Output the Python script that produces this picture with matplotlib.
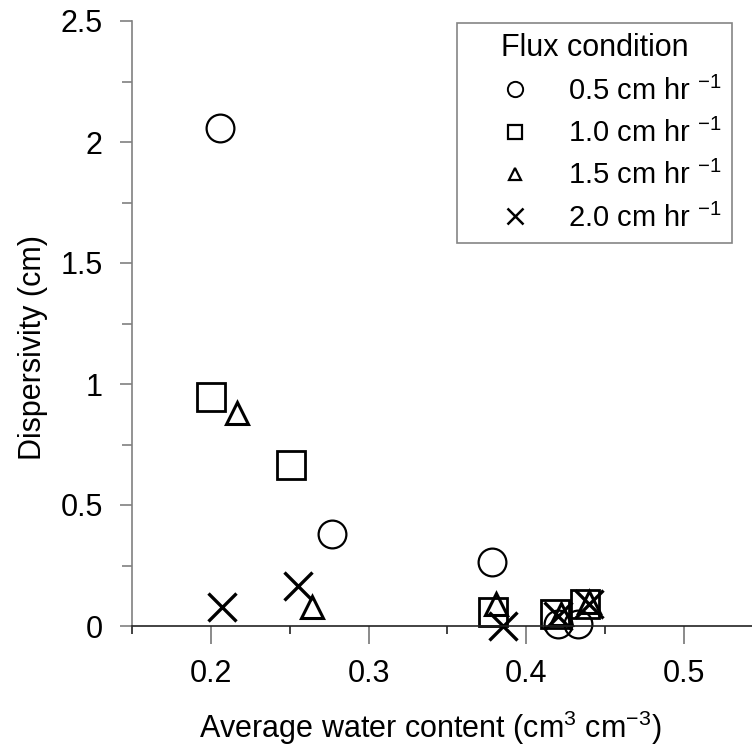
import matplotlib.pyplot as plt
from matplotlib.lines import Line2D

plt.rcParams['font.family'] = ['Liberation Sans', 'DejaVu Sans']
plt.rcParams['mathtext.fontset'] = 'custom'
plt.rcParams['mathtext.rm'] = 'Liberation Sans'
plt.rcParams['mathtext.default'] = 'regular'

# water content (cm3 cm-3) and dispersivity (cm) per flux condition
theta_05 = [0.206, 0.277, 0.378, 0.420, 0.433]
disp_05 = [2.058, 0.380, 0.265, 0.008, 0.010]

theta_10 = [0.200, 0.251, 0.379, 0.418, 0.437]
disp_10 = [0.946, 0.665, 0.058, 0.050, 0.090]

theta_15 = [0.2165, 0.264, 0.381, 0.422, 0.440]
disp_15 = [0.880, 0.080, 0.090, 0.050, 0.100]

theta_20 = [0.207, 0.255, 0.385, 0.420, 0.440]
disp_20 = [0.080, 0.165, 0.000, 0.040, 0.090]

labels = ['0.5 cm hr $^{-1}$', '1.0 cm hr $^{-1}$',
          '1.5 cm hr $^{-1}$', '2.0 cm hr $^{-1}$']

W, H = 752, 747
fig = plt.figure(figsize=(W / 100, H / 100), dpi=100)
ax = fig.add_axes([132 / W, 1 - 626 / H, (W - 132) / W, (626 - 21) / H])

ax.plot(theta_05, disp_05, 'o', ms=20, mfc='none', mec='k', mew=1.6, clip_on=False)
ax.plot(theta_10, disp_10, 's', ms=20, mfc='none', mec='k', mew=2.0, clip_on=False)
ax.plot(theta_15, disp_15, '^', ms=16, mfc='none', mec='k', mew=2.2, clip_on=False)
ax.plot(theta_20, disp_20, 'x', ms=20, mec='k', mew=2.4, clip_on=False)

ax.set_xlim(0.15, 0.15 + (W - 132) / 1577.0)
ax.set_ylim(0, 2.5)
ax.set_xticks([0.2, 0.3, 0.4, 0.5])
ax.set_xticklabels(['0.2', '0.3', '0.4', '0.5'])
ax.set_xticks([0.15, 0.25, 0.35, 0.45], minor=True)
ax.set_yticks([0, 0.5, 1, 1.5, 2, 2.5])
ax.set_yticklabels(['0', '0.5', '1', '1.5', '2', '2.5'])
ax.set_yticks([0.25, 0.75, 1.25, 1.75, 2.25], minor=True)

for s in ['top', 'right']:
    ax.spines[s].set_visible(False)
ax.spines['left'].set_color('#808080')
ax.spines['left'].set_linewidth(1.2)
ax.spines['bottom'].set_color('#222222')
ax.spines['bottom'].set_linewidth(1.2)

ax.tick_params(axis='x', which='major', length=13, width=1.2, color='#777777',
               labelsize=22, pad=11)
ax.tick_params(axis='x', which='minor', length=6, width=1.2, color='#222222')
ax.tick_params(axis='y', which='major', length=9, width=1.2, color='#808080',
               labelsize=22, pad=12)
ax.tick_params(axis='y', which='minor', length=7, width=1.2, color='#808080')

ax.set_xlabel('Average water content (cm$^{3}$ cm$^{-3}$)', fontsize=22)
ax.xaxis.set_label_coords((430 - 132) / (W - 132), -0.137)
ax.set_ylabel('Dispersivity (cm)', fontsize=22)
ax.yaxis.set_label_coords(-0.135, 0.46)

handles = [
    Line2D([], [], ls='none', marker='o', ms=11, mfc='none', mec='k', mew=1.4),
    Line2D([], [], ls='none', marker='s', ms=10, mfc='none', mec='k', mew=1.6),
    Line2D([], [], ls='none', marker='^', ms=8, mfc='none', mec='k', mew=1.6),
    Line2D([], [], ls='none', marker='x', ms=11, mec='k', mew=1.8),
]
leg = ax.legend(handles, labels, title='Flux condition', fontsize=21,
                title_fontsize=22, loc='upper right',
                bbox_to_anchor=(732 / W, 1 - 23 / H), bbox_transform=fig.transFigure,
                frameon=True, fancybox=False, edgecolor='#666666',
                borderpad=0.35, labelspacing=0.45, handletextpad=0.15,
                handlelength=3.3, borderaxespad=0)
leg.get_frame().set_linewidth(1.2)

fig.savefig('out.png', dpi=100)
